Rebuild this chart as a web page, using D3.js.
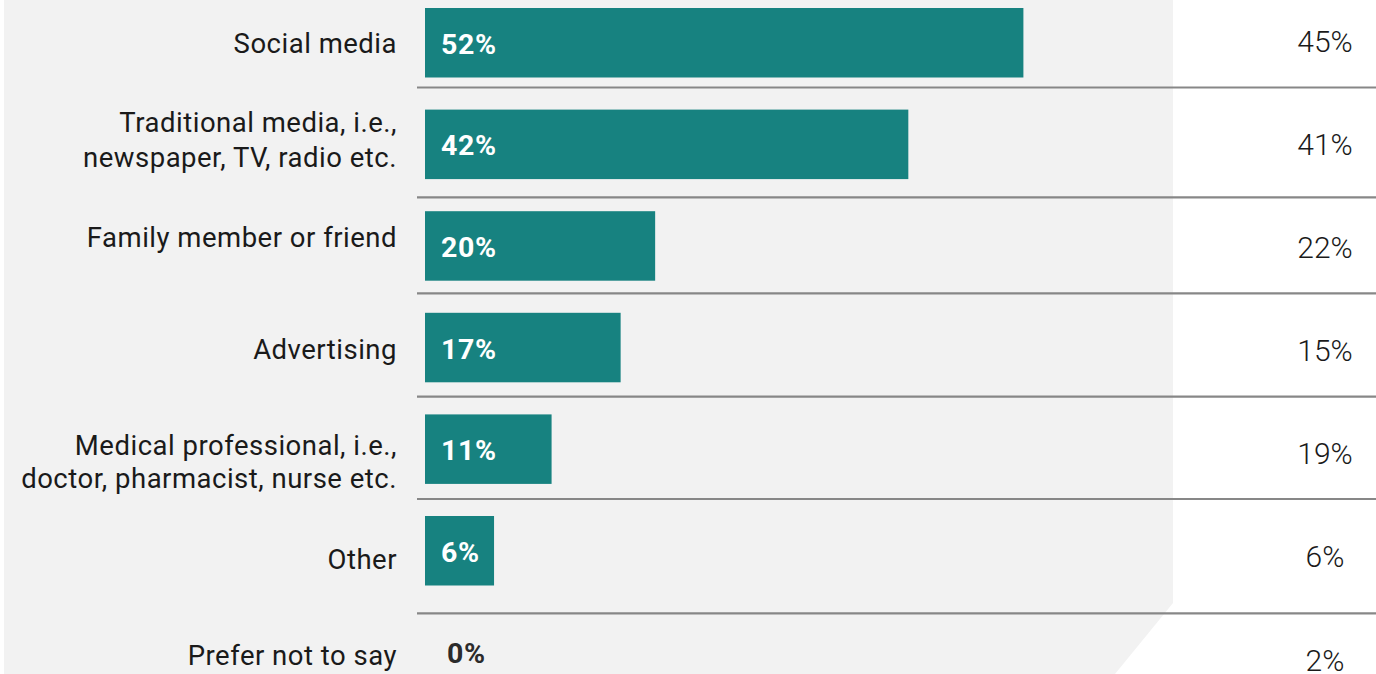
<!DOCTYPE html>
<html>
<head>
<meta charset="utf-8">
<script src="https://cdn.jsdelivr.net/npm/d3@7"></script>
<style>
  html, body { margin: 0; padding: 0; background: #ffffff; }
  svg { display: block; }
</style>
</head>
<body>
<svg id="chart" width="1376" height="674"></svg>
<script>
// ---- data ----
const categories = [
  "Social media",
  "Traditional media, i.e.,\nnewspaper, TV, radio etc.",
  "Family member or friend",
  "Advertising",
  "Medical professional, i.e.,\ndoctor, pharmacist, nurse etc.",
  "Other",
  "Prefer not to say"
];
const primaryValues = [52, 42, 20, 17, 11, 6, 0];
const comparisonValues = [45, 41, 22, 15, 19, 6, 2];

// ---- layout ----
const W = 1376, H = 674;
const labelBaselines = [[53], [131.7, 166.7], [247.3], [359], [455, 488], [569.3], [665]];
const separatorYs = [87.5, 197.3, 293.3, 396.7, 499, 613.3];

const svg = d3.select("#chart");

// gray panel
svg.append("path")
  .attr("d", `M4,0 L1173,0 L1173,603 L1115,674 L4,674 Z`)
  .attr("fill", "#f2f2f2");

const x = d3.scaleLinear().domain([0, 65]).range([425, 1173]);
const y = d3.scaleBand().domain(categories).range([8, 687.1]).paddingInner(0.316).paddingOuter(0);
const yRight = d3.scalePoint().domain(categories).range([52.3, 670.5]);

// separators
svg.append("g").selectAll("line").data(separatorYs).join("line")
  .attr("x1", 417).attr("x2", W)
  .attr("y1", d => d).attr("y2", d => d)
  .attr("stroke", "#878787").attr("stroke-width", 2.2);

const rows = categories.map((c, i) => ({ c, i, v: primaryValues[i], r: comparisonValues[i] }));

// bars
svg.append("g").selectAll("rect").data(rows.filter(d => d.v > 0)).join("rect")
  .attr("x", x(0))
  .attr("y", d => y(d.c))
  .attr("width", d => x(d.v) - x(0))
  .attr("height", y.bandwidth())
  .attr("fill", "#178280");

// bar value labels
svg.append("g").selectAll("text").data(rows).join("text")
  .attr("x", d => d.v > 0 ? x(0) + 16 : x(0) + 22)
  .attr("y", d => y(d.c) + y.bandwidth() / 2 + 11)
  .attr("font-family", "Roboto, 'Noto Sans', sans-serif")
  .attr("font-weight", 700)
  .attr("font-size", 28.5)
  .attr("letter-spacing", 0.7)
  .attr("fill", d => d.v > 0 ? "#ffffff" : "#2b2b2b")
  .text(d => d.v + "%");

// category labels
const lg = svg.append("g")
  .attr("font-family", "Roboto, 'Noto Sans', sans-serif")
  .attr("font-size", 27.5)
  .attr("letter-spacing", 0.5)
  .attr("fill", "#1a1a1a")
  .attr("text-anchor", "end");
rows.forEach(d => {
  const lines = d.c.split("\n");
  lines.forEach((ln, k) => {
    lg.append("text")
      .attr("x", 397)
      .attr("y", labelBaselines[d.i][k])
      .text(ln);
  });
});

// comparison values (right column)
svg.append("g").selectAll("text").data(rows).join("text")
  .attr("x", 1325)
  .attr("y", d => yRight(d.c))
  .attr("text-anchor", "middle")
  .attr("font-family", "Roboto, 'Noto Sans', sans-serif")
  .attr("font-weight", 300)
  .attr("font-size", 30)
  .attr("fill", "#1a1a1a")
  .text(d => d.r + "%");
</script>
</body>
</html>
